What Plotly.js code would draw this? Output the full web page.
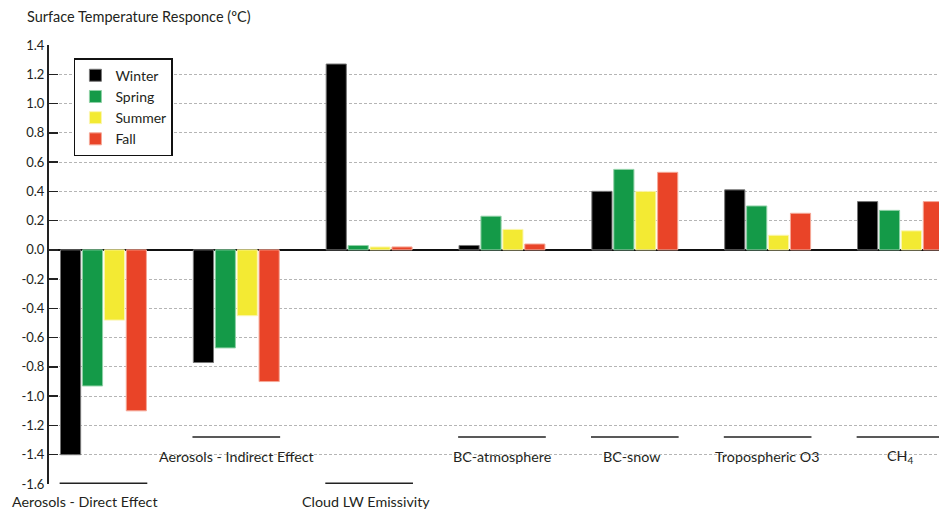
<!DOCTYPE html>
<html>
<head>
<meta charset="utf-8">
<script src="https://cdn.plot.ly/plotly-3.0.1.min.js"></script>
<style>html,body{margin:0;padding:0;background:#fff}#chart{width:939px;height:514px}</style>
</head>
<body>
<div id="chart"></div>
<script>
const categories = ["Aerosols - Direct Effect", "Aerosols - Indirect Effect", "Cloud LW Emissivity", "BC-atmosphere", "BC-snow", "Tropospheric O3", "CH<sub>4</sub>"];
const winter = [-1.40, -0.77, 1.27, 0.03, 0.40, 0.41, 0.33];
const spring = [-0.93, -0.67, 0.03, 0.23, 0.55, 0.30, 0.27];
const summer = [-0.48, -0.45, 0.02, 0.14, 0.40, 0.10, 0.13];
const fall   = [-1.10, -0.90, 0.02, 0.04, 0.53, 0.25, 0.33];
const seriesNames = ["Winter", "Spring", "Summer", "Fall"];
const yTicks = [1.4, 1.2, 1.0, 0.8, 0.6, 0.4, 0.2, 0.0, -0.2, -0.4, -0.6, -0.8, -1.0, -1.2, -1.4, -1.6];

const colors = ["#000000", "#149a48", "#f3ea33", "#e94428"];
const outlines = ["#777777", "#8fd1a6", "#fbf6b0", "#f5a897"];
const FONT = "Lato, 'Open Sans', sans-serif";
const TXT = "#231f20";

const traces = [winter, spring, summer, fall].map((vals, k) => ({
  type: "bar",
  name: seriesNames[k],
  x: categories,
  y: vals,
  marker: {color: colors[k], line: {color: outlines[k], width: 1}},
  hoverinfo: "x+y+name"
}));

// staggered category labels with rules above them
const annotations = [];
const shapes = [];
const labelShift = [-18, 0, -3, 0, -3, 0, 0];
categories.forEach((c, i) => {
  const bottomRow = (i === 0 || i === 2);
  const lineY = bottomRow ? -1.595 : -1.278;
  annotations.push({
    x: i, xref: "x",
    y: bottomRow ? -0.041 : (-1.41 + 1.6) / 3.0,
    yref: "paper",
    text: c, showarrow: false, xanchor: "center", yanchor: "middle",
    xshift: labelShift[i],
    font: {family: FONT, size: 14.3, color: TXT}
  });
  shapes.push({
    type: "line", xref: "x", yref: "y",
    x0: i - 0.33, x1: i + 0.33, y0: lineY, y1: lineY,
    line: {color: "#222", width: 1.5}
  });
});

const layout = {
  width: 939, height: 514,
  margin: {l: 49, r: 0, t: 45, b: 30},
  paper_bgcolor: "#fff", plot_bgcolor: "#fff",
  font: {family: FONT, size: 13, color: TXT},
  title: {
    text: "Surface Temperature Responce (ºC)",
    x: 27 / 939, xref: "container", xanchor: "left",
    y: 1 - 17 / 514, yref: "container", yanchor: "middle",
    font: {family: FONT, size: 14.5, color: TXT}
  },
  barmode: "group",
  bargap: 0.34,
  bargroupgap: 0.08,
  showlegend: true,
  legend: {
    x: 0.028, y: 0.97, xanchor: "left", yanchor: "top",
    bgcolor: "#fff", bordercolor: "#111", borderwidth: 1.5,
    font: {family: FONT, size: 14, color: TXT},
    itemwidth: 30,
    tracegroupgap: 0
  },
  xaxis: {
    type: "category",
    categoryorder: "array", categoryarray: categories,
    range: [-0.41, 6.29],
    showticklabels: false, ticks: "", showgrid: false,
    showline: false, zeroline: false, fixedrange: true
  },
  yaxis: {
    range: [-1.6, 1.4],
    tickvals: yTicks,
    ticktext: yTicks.map(v => v.toFixed(1)),
    ticks: "inside", ticklen: 9, tickwidth: 1.5, tickcolor: "#222",
    showline: true, linecolor: "#222", linewidth: 2,
    showgrid: true, gridcolor: "#b5b5b5", gridwidth: 1, griddash: "3px,2px",
    zeroline: true, zerolinecolor: "#111", zerolinewidth: 2,
    tickfont: {family: FONT, size: 13, color: TXT},
    fixedrange: true
  },
  annotations: annotations,
  shapes: shapes
};

Plotly.newPlot("chart", traces, layout, {displayModeBar: false, staticPlot: true});
</script>
</body>
</html>
